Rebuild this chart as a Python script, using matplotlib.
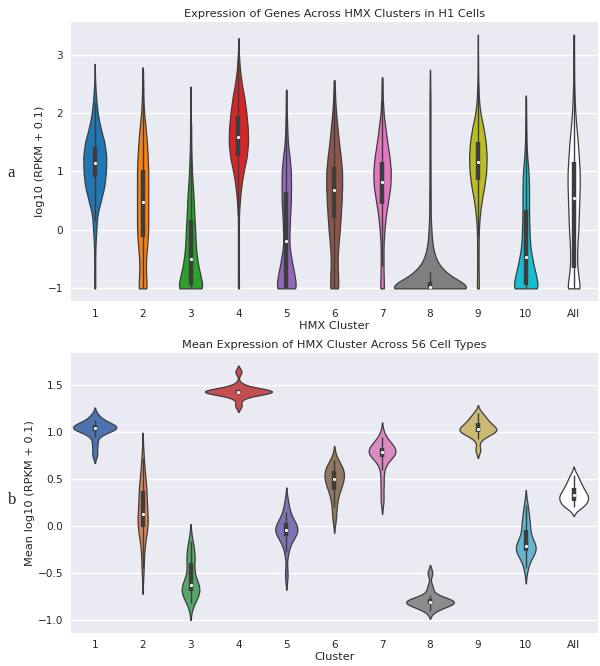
import numpy as np
import matplotlib.pyplot as plt

CLUSTERS = ["1", "2", "3", "4", "5", "6", "7", "8", "9", "10", "All"]

# ---- panel a: genes per expression level ----
levels = [-1.0, -0.75, -0.5, -0.25, 0.0, 0.25, 0.5, 0.75, 1.0, 1.25,
          1.5, 1.75, 2.0, 2.25, 2.5, 2.75, 3.0, 3.25]
a_counts = [
    [1.2, 1, 1, 1.5, 3.5, 5, 13, 21, 24, 25, 21, 12, 6, 3, 1, 0, 0, 0],        # 1
    [9.6, 7, 7, 10, 12, 12, 12, 12, 12, 11, 9, 6.5, 3, 1.5, 1, 0, 0, 0],      # 2
    [29, 20, 14, 11, 10, 8, 7, 5, 3, 2, 1, 1, 0.5, 0.5, 0, 0, 0, 0],          # 3
    [1.2, 1, 1, 1, 1, 1, 3, 6, 11, 18, 21, 20, 17, 13, 7, 3, 1, 0],           # 4
    [23, 17, 11, 6, 7, 8, 10, 10, 10, 7, 3, 2, 1, 0.5, 0, 0, 0, 0],           # 5
    [9.5, 8, 7, 9, 12, 14, 16, 17, 17, 14, 10, 7, 4, 2, 1, 0, 0, 0],          # 6
    [4.5, 3, 3, 3, 5, 8, 13, 18, 19, 16, 11, 7, 3, 1.5, 1, 0, 0, 0],          # 7
    [100, 33, 12, 5, 3, 1.5, 1.5, 1.2, 1.2, 1, 1, 1, 1, 1, 0.5, 0, 0, 0],     # 8
    [2.4, 1.5, 1.5, 1.5, 2, 4, 8, 14, 18, 19, 17, 12, 5, 2, 1, 0.6, 0.3, 0],  # 9
    [29, 21, 14, 9, 8, 7, 7, 7, 6, 3, 1.5, 1, 0.5, 0, 0, 0, 0, 0],            # 10
    [15, 9, 7, 8, 10, 11, 12, 13, 13, 11, 9, 6, 3.5, 2, 1, 0.7, 0.5, 0.3],    # All
]
a_max = [2.84, 2.78, 2.45, 3.28, 2.40, 2.56, 2.61, 2.74, 3.34, 2.30, 3.34]
a_q1 = [0.91, -0.12, -0.94, 1.26, -1.00, 0.20, 0.45, -1.00, 0.85, -0.94, -0.66]
a_med = [1.14, 0.48, -0.50, 1.59, -0.19, 0.68, 0.82, -0.97, 1.17, -0.46, 0.54]
a_q3 = [1.42, 1.02, 0.17, 1.94, 0.64, 1.08, 1.16, -0.89, 1.50, 0.34, 1.16]

# ---- panel b: mean expression per cell type ----
b_values = [
    [1.17, 1.13, 1.10, 1.08, 1.07, 1.06, 1.05, 1.05, 1.04, 1.04, 1.03, 1.02, 1.00, 0.95, 0.86, 0.76],
    [0.72, 0.55, 0.45, 0.40, 0.36, 0.30, 0.22, 0.15, 0.10, 0.06, 0.02, 0.00, -0.03, -0.10, -0.25, -0.45],
    [-0.16, -0.25, -0.31, -0.35, -0.41, -0.50, -0.57, -0.61, -0.64, -0.66, -0.68, -0.69, -0.71, -0.73, -0.77, -0.82],
    [1.64, 1.50, 1.46, 1.45, 1.44, 1.44, 1.43, 1.43, 1.43, 1.43, 1.42, 1.42, 1.41, 1.40, 1.36, 1.28],
    [0.25, 0.15, 0.09, 0.05, 0.02, 0.00, -0.02, -0.03, -0.05, -0.06, -0.08, -0.10, -0.13, -0.18, -0.28, -0.52],
    [0.70, 0.65, 0.62, 0.60, 0.58, 0.56, 0.53, 0.51, 0.48, 0.46, 0.43, 0.40, 0.35, 0.29, 0.20, 0.08],
    [0.95, 0.89, 0.86, 0.84, 0.82, 0.81, 0.80, 0.79, 0.78, 0.77, 0.76, 0.74, 0.71, 0.60, 0.45, 0.28],
    [-0.50, -0.65, -0.73, -0.77, -0.78, -0.79, -0.80, -0.80, -0.81, -0.81, -0.82, -0.83, -0.84, -0.85, -0.87, -0.90],
    [1.20, 1.16, 1.13, 1.11, 1.09, 1.07, 1.05, 1.04, 1.03, 1.02, 1.01, 1.00, 0.99, 0.97, 0.93, 0.81],
    [0.22, 0.12, 0.05, 0.00, -0.06, -0.12, -0.17, -0.20, -0.22, -0.23, -0.24, -0.26, -0.28, -0.30, -0.35, -0.45],
    [0.54, 0.49, 0.45, 0.42, 0.40, 0.37, 0.35, 0.33, 0.32, 0.30, 0.29, 0.27, 0.25, 0.23, 0.21, 0.20],
]

A_COLORS = ["#1f77b4", "#ff7f0e", "#2ca02c", "#d62728", "#9467bd", "#8c564b",
            "#e377c2", "#7f7f7f", "#bcbd22", "#17becf", "white"]
B_COLORS = ["#4c72b0", "#dd8452", "#55a868", "#c44e52", "#8172b3", "#937860",
            "#da8bc3", "#8c8c8c", "#ccb974", "#64b5cd", "white"]
EDGE = "#3d3d3d"
TEXT = "#262626"

plt.rcParams.update({
    "font.family": "DejaVu Sans",
    "axes.facecolor": "#eaeaf2",
    "axes.edgecolor": "white",
    "axes.axisbelow": True,
    "text.color": TEXT,
    "axes.labelcolor": TEXT,
    "xtick.color": TEXT,
    "ytick.color": TEXT,
})


def gauss_sum(grid, points, weights, bw):
    z = (grid[:, None] - np.asarray(points)[None, :]) / bw
    return (np.exp(-0.5 * z ** 2) * np.asarray(weights)[None, :]).sum(axis=1)


def draw_box(ax, x, q1, med, q3, lo, hi):
    ax.vlines(x, lo, hi, color=EDGE, lw=1.0, zorder=3)
    ax.vlines(x, q1, q3, color=EDGE, lw=3.2, zorder=3)
    ax.scatter([x], [med], s=5, color="white", zorder=4, linewidths=0)


def style_axis(ax, title, xlabel, ylabel):
    ax.set_xticks(range(len(CLUSTERS)), CLUSTERS)
    ax.set_xlim(-0.5, len(CLUSTERS) - 0.5)
    ax.grid(axis="y", color="white", lw=1.0)
    ax.grid(axis="x", visible=False)
    ax.tick_params(length=0, labelsize=7.6, pad=5.5)
    for s in ax.spines.values():
        s.set_visible(False)
    ax.set_title(title, fontsize=8.2, pad=3.5)
    ax.set_xlabel(xlabel, fontsize=8.2, labelpad=1.5)
    ax.set_ylabel(ylabel, fontsize=8.2, labelpad=2)


fig = plt.figure(figsize=(6, 6.66), dpi=100)
ax_a = fig.add_axes([0.118, 0.548, 0.878, 0.419])
ax_b = fig.add_axes([0.118, 0.050, 0.878, 0.420])

# panel a: cut at data range, widths follow gene counts
bw_a = 0.14
curves = []
for i in range(len(CLUSTERS)):
    grid = np.linspace(-1.0, a_max[i], 400)
    dens = gauss_sum(grid, levels + [a_max[i]], a_counts[i] + [0.3], bw_a)
    curves.append((grid, dens))
peak = max(d.max() for _, d in curves)
for i, (grid, dens) in enumerate(curves):
    half = dens / peak * 0.75
    ax_a.fill_betweenx(grid, i - half, i + half, facecolor=A_COLORS[i],
                       edgecolor=EDGE, lw=0.9, zorder=2)
    iqr = a_q3[i] - a_q1[i]
    lo = max(-1.0, a_q1[i] - 1.5 * iqr)
    hi = min(a_max[i], a_q3[i] + 1.5 * iqr)
    draw_box(ax_a, i, a_q1[i], a_med[i], a_q3[i], lo, hi)
style_axis(ax_a, "Expression of Genes Across HMX Clusters in H1 Cells",
           "HMX Cluster", "log10 (RPKM + 0.1)")

# panel b: gaussian kde, same area per violin, tails cut at 2 bandwidths
curves = []
for vals in b_values:
    v = np.asarray(vals)
    bw = 0.45 * v.std(ddof=1)
    grid = np.linspace(v.min() - 2 * bw, v.max() + 2 * bw, 300)
    dens = gauss_sum(grid, v, np.ones(len(v)), bw) / (len(v) * bw * np.sqrt(2 * np.pi))
    curves.append((grid, dens))
peak = max(d.max() for _, d in curves)
for i, (grid, dens) in enumerate(curves):
    half = dens / peak * 0.70
    ax_b.fill_betweenx(grid, i - half, i + half, facecolor=B_COLORS[i],
                       edgecolor=EDGE, lw=0.9, zorder=2)
    v = np.asarray(b_values[i])
    q1, med, q3 = np.percentile(v, [25, 50, 75])
    iqr = q3 - q1
    lo = v[v >= q1 - 1.5 * iqr].min()
    hi = v[v <= q3 + 1.5 * iqr].max()
    draw_box(ax_b, i, q1, med, q3, lo, hi)
style_axis(ax_b, "Mean Expression of HMX Cluster Across 56 Cell Types",
           "Cluster", "Mean log10 (RPKM + 0.1)")

fig.text(0.013, 0.740, "a", family="Liberation Serif", fontsize=12, va="center")
fig.text(0.013, 0.249, "b", family="Liberation Serif", fontsize=12, va="center")

fig.savefig("out.png", dpi=100)
